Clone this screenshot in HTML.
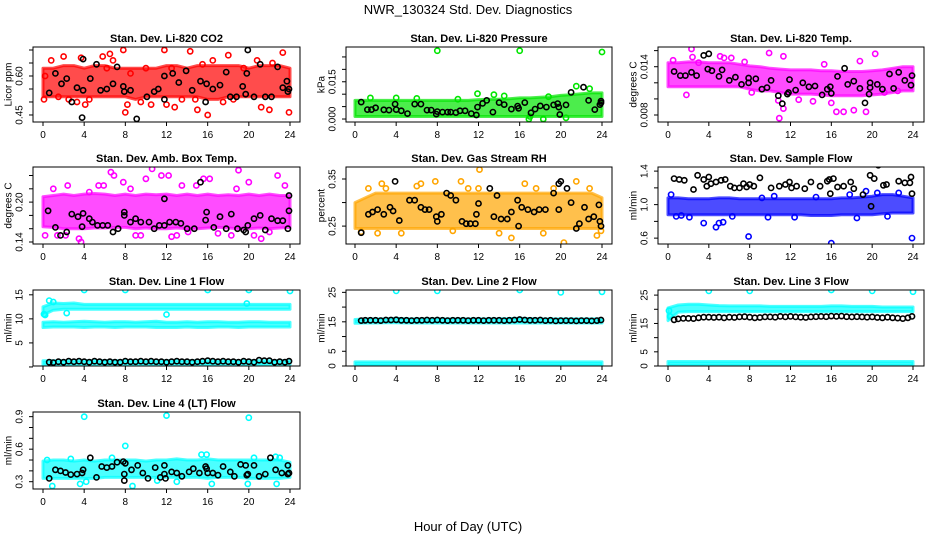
<!DOCTYPE html>
<html><head><meta charset="utf-8"><title>NWR_130324 Std. Dev. Diagnostics</title>
<style>
html,body{margin:0;padding:0;background:#fff;}
svg{display:block;font-family:"Liberation Sans",Arial,sans-serif;}
</style></head>
<body>
<svg id="chart" width="936" height="540" viewBox="0 0 936 540" xmlns="http://www.w3.org/2000/svg">
<text x="468" y="14" text-anchor="middle" font-size="13">NWR_130324  Std. Dev. Diagnostics</text>
<text x="468" y="531" text-anchor="middle" font-size="13">Hour of Day (UTC)</text>
</svg>
<script>
// ---------- data ----------
const hours = [0,1,2,3,4,5,6,7,8,9,10,11,12,13,14,15,16,17,18,19,20,21,22,23,24];
const xTicks = [0,4,8,12,16,20,24];

// P1 CO2
const co2Lo = [0.52,0.52,0.52,0.52,0.52,0.52,0.52,0.52,0.52,0.51,0.52,0.52,0.52,0.52,0.52,0.52,0.51,0.51,0.52,0.52,0.52,0.52,0.52,0.52,0.52];
const co2Hi = [0.63,0.63,0.64,0.64,0.63,0.64,0.64,0.63,0.63,0.63,0.63,0.63,0.64,0.64,0.63,0.64,0.64,0.64,0.64,0.64,0.63,0.64,0.64,0.64,0.63];
const co2Pts = [[0.1,0.51],[0.2,0.60],[0.8,0.66],[2.0,0.675],[3.7,0.67],[4.1,0.49],[5.8,0.675],[6.5,0.685],[6.8,0.66],[7.8,0.70],[8.0,0.46],[8.2,0.49],[9.5,0.50],[11.8,0.70],[12.0,0.49],[12.8,0.48],[14.3,0.695],[15.0,0.47],[15.5,0.645],[16.0,0.45],[16.5,0.66],[18.0,0.68],[19.5,0.63],[21.2,0.48],[22.0,0.47],[23.3,0.69],[23.9,0.46],[10.5,0.49],[1.5,0.52],[3.3,0.50],[17.5,0.50],[14.8,0.51],[20.8,0.66],[22.3,0.65],[8.5,0.61],[12.5,0.63],[6.2,0.63],[10.0,0.63],[4.5,0.51],[2.5,0.51],[13.5,0.51],[18.5,0.51]];
const co2Blk = [[0.6,0.535],[1.2,0.61],[1.8,0.57],[2.3,0.59],[2.8,0.50],[3.3,0.555],[3.8,0.44],[3.9,0.545],[3.9,0.665],[4.6,0.59],[5.2,0.645],[5.6,0.545],[6.2,0.55],[6.8,0.57],[7.2,0.635],[7.8,0.56],[7.9,0.54],[8.5,0.545],[9.1,0.435],[10.1,0.52],[10.8,0.54],[11.2,0.55],[11.8,0.51],[11.8,0.60],[12.6,0.61],[13.2,0.575],[13.9,0.62],[14.5,0.545],[15.3,0.58],[15.8,0.50],[15.9,0.57],[16.5,0.55],[17.2,0.565],[17.8,0.615],[18.2,0.52],[18.8,0.52],[19.4,0.56],[19.7,0.53],[19.8,0.61],[19.9,0.70],[20.5,0.52],[21.1,0.645],[21.6,0.52],[22.2,0.52],[22.8,0.635],[23.3,0.555],[23.7,0.58],[23.8,0.54],[23.9,0.55]];

// P2 Pressure
const presLo = [0.001,0.001,0.001,0.001,0.001,0.001,0.001,0.001,0.001,0.001,0.001,0.001,0.001,0.001,0.001,0.001,0.001,0.001,0.001,0.001,0.001,0.001,0.001,0.001,0.001];
const presHi = [0.0075,0.0075,0.0075,0.0075,0.0075,0.0075,0.0075,0.0075,0.0075,0.0075,0.0075,0.0075,0.0078,0.008,0.008,0.0082,0.0085,0.0085,0.0088,0.009,0.0095,0.0098,0.0102,0.0105,0.0105];
const presPts = [[1.5,0.0085],[4.0,0.0085],[8,0.0275],[11.9,0.0102],[13.5,0.0098],[14.5,0.0093],[16,0.0275],[16.9,0.0],[18.3,0.0],[18.8,0.009],[21.5,0.0132],[22.8,0.0122],[24,0.027],[10,0.008],[6,0.0083],[17,0.001],[20.5,0.0005]];
const presBlk = [[0.6,0.0068],[1.2,0.0038],[1.6,0.0038],[2.0,0.0045],[2.8,0.0037],[3.3,0.0036],[3.9,0.006],[4.0,0.0038],[4.5,0.0033],[5.1,0.0022],[5.8,0.006],[6.4,0.006],[7.0,0.0036],[7.4,0.0036],[7.9,0.002],[8.0,0.003],[8.5,0.0028],[9.0,0.0028],[9.3,0.0028],[9.8,0.0026],[10.2,0.0033],[10.7,0.0033],[11.3,0.0022],[11.8,0.0016],[11.9,0.0048],[12.4,0.0063],[12.8,0.0075],[13.4,0.0028],[14.0,0.0066],[14.5,0.0058],[15.2,0.004],[15.8,0.0052],[15.9,0.0043],[16.5,0.0066],[17.1,0.0025],[17.5,0.004],[18.0,0.0053],[18.6,0.0048],[19.3,0.0057],[19.7,0.0062],[19.8,0.0048],[19.9,0.0018],[20.5,0.0057],[21.0,0.0107],[22.2,0.0128],[22.7,0.0075],[23.3,0.0038],[23.8,0.0058],[23.9,0.0072],[23.9,0.0065]];

// P3 Li-820 Temp
const tempLo = [0.0115,0.0115,0.0115,0.0115,0.0115,0.0115,0.0115,0.0115,0.0112,0.011,0.011,0.0108,0.0106,0.0106,0.0106,0.0105,0.0104,0.0104,0.0104,0.0104,0.0105,0.0106,0.0108,0.011,0.011];
const tempHi = [0.0145,0.0145,0.0146,0.0146,0.0145,0.0145,0.0145,0.0143,0.0141,0.014,0.0138,0.0137,0.0136,0.0136,0.0136,0.0135,0.0135,0.0134,0.0134,0.0134,0.0135,0.0136,0.0138,0.014,0.014];
const tempPts = [[2.3,0.0162],[2.4,0.0152],[5.1,0.0153],[5.5,0.0151],[6.2,0.0151],[9.9,0.0157],[10.9,0.0076],[11.3,0.0088],[11.3,0.0153],[16.5,0.0084],[17.2,0.0084],[18.8,0.0147],[19.4,0.0084],[20.3,0.0156],[16,0.0095],[14.2,0.0097],[1.8,0.0105],[8.2,0.0108],[10.8,0.0098],[12.8,0.0099],[21.2,0.0108],[22.5,0.011],[7.5,0.0146],[15.3,0.0143],[3.0,0.0145],[18.2,0.0086],[0.5,0.0148]];
const tempBlk = [[0.6,0.0134],[1.2,0.0129],[1.7,0.0129],[2.3,0.0133],[2.8,0.0129],[3.5,0.0154],[3.9,0.0137],[4.0,0.0156],[4.3,0.0135],[5.0,0.0128],[5.3,0.0136],[6.0,0.0123],[6.6,0.0127],[7.2,0.0118],[7.9,0.012],[7.9,0.0126],[8.6,0.0125],[9.2,0.0112],[9.7,0.0114],[10.1,0.0123],[10.8,0.0104],[11.2,0.0094],[11.7,0.0106],[11.8,0.0108],[11.9,0.0124],[12.5,0.0111],[13.2,0.012],[13.8,0.0115],[14.4,0.0116],[15.1,0.0105],[15.6,0.0112],[15.9,0.0115],[16.0,0.0107],[16.6,0.0128],[17.3,0.0138],[17.6,0.0118],[18.2,0.0122],[18.8,0.0113],[19.3,0.0095],[19.7,0.0106],[19.8,0.0114],[19.8,0.012],[20.5,0.0118],[21.0,0.0112],[21.7,0.0131],[22.1,0.0113],[22.6,0.0133],[23.2,0.0123],[23.8,0.0117],[23.9,0.0129]];

// P4 Amb Box Temp
const boxLo = [0.163,0.162,0.16,0.16,0.16,0.161,0.161,0.162,0.162,0.16,0.161,0.16,0.16,0.161,0.16,0.16,0.161,0.162,0.161,0.16,0.16,0.161,0.16,0.161,0.162];
const boxHi = [0.208,0.21,0.212,0.21,0.212,0.213,0.212,0.21,0.212,0.21,0.212,0.211,0.212,0.21,0.212,0.21,0.212,0.21,0.211,0.21,0.212,0.21,0.212,0.21,0.21];
const boxPts = [[0.2,0.15],[1.4,0.15],[2.4,0.225],[3.5,0.145],[3.7,0.14],[5.4,0.225],[5.9,0.225],[6.6,0.245],[7.8,0.23],[9.0,0.15],[9.5,0.15],[10.0,0.235],[10.6,0.25],[11.5,0.24],[12.2,0.24],[13.0,0.15],[14.1,0.155],[15.6,0.235],[16.2,0.235],[18.3,0.15],[19.0,0.248],[20.5,0.15],[21.2,0.145],[22.8,0.24],[23.5,0.225],[18.8,0.22],[8.5,0.22],[2.2,0.15],[12.5,0.148],[17.0,0.153],[20.0,0.23],[4.5,0.215],[14.9,0.225],[6.9,0.24],[1.0,0.22],[13.5,0.225],[22.0,0.155]];
const boxBlk = [[0.5,0.187],[1.2,0.162],[1.7,0.150],[2.3,0.155],[2.8,0.182],[3.4,0.178],[3.8,0.163],[3.9,0.183],[4.5,0.175],[4.8,0.17],[5.3,0.165],[5.8,0.165],[6.3,0.165],[6.8,0.155],[7.3,0.16],[7.9,0.18],[7.9,0.185],[8.5,0.17],[9.0,0.175],[9.5,0.17],[10.3,0.17],[10.8,0.16],[11.3,0.165],[11.8,0.205],[11.8,0.165],[12.3,0.17],[12.9,0.17],[13.4,0.168],[14.0,0.16],[14.7,0.16],[15.3,0.23],[15.8,0.173],[15.9,0.185],[16.6,0.162],[17.2,0.178],[17.8,0.16],[18.3,0.182],[18.9,0.16],[19.5,0.158],[19.7,0.155],[19.9,0.165],[20.5,0.175],[21.1,0.18],[21.6,0.158],[22.2,0.175],[22.8,0.172],[23.3,0.172],[23.8,0.16],[23.9,0.187],[23.9,0.21]];

// P5 Gas Stream RH
const rhLo = [0.245,0.245,0.245,0.245,0.245,0.245,0.245,0.245,0.245,0.245,0.245,0.245,0.245,0.245,0.245,0.245,0.245,0.245,0.245,0.245,0.245,0.245,0.245,0.245,0.245];
const rhHi = [0.3,0.31,0.32,0.32,0.32,0.32,0.32,0.32,0.32,0.32,0.32,0.32,0.32,0.32,0.32,0.32,0.32,0.32,0.32,0.32,0.32,0.32,0.32,0.32,0.31];
const rhPts = [[0.6,0.238],[1.3,0.33],[2.6,0.34],[3.0,0.33],[6.4,0.34],[7.8,0.345],[10.3,0.345],[12.1,0.37],[12.0,0.33],[15.2,0.225],[16.5,0.34],[20.3,0.215],[21.5,0.345],[22.8,0.33],[23.5,0.23],[23.9,0.24],[4.5,0.235],[9.5,0.24],[18.3,0.235],[2.2,0.235],[14.0,0.235],[17.6,0.33],[19.3,0.33],[6.0,0.335],[11.0,0.33]];
const rhBlk = [[0.6,0.236],[1.3,0.275],[1.7,0.28],[2.2,0.285],[2.8,0.275],[3.4,0.29],[3.7,0.282],[3.9,0.345],[4.3,0.262],[5.3,0.305],[5.8,0.305],[6.4,0.29],[6.8,0.285],[7.2,0.285],[7.9,0.27],[8.0,0.26],[8.4,0.275],[8.9,0.32],[9.3,0.315],[9.8,0.305],[10.4,0.26],[10.8,0.255],[11.2,0.255],[11.7,0.255],[11.8,0.275],[12.0,0.298],[13.1,0.33],[13.5,0.27],[13.8,0.315],[14.2,0.265],[14.8,0.265],[15.2,0.28],[15.8,0.305],[15.9,0.25],[16.2,0.29],[16.8,0.285],[17.4,0.28],[17.9,0.285],[18.5,0.285],[19.3,0.32],[19.8,0.34],[19.8,0.285],[20.0,0.345],[20.6,0.33],[21.0,0.3],[21.5,0.245],[21.8,0.255],[22.3,0.29],[22.7,0.265],[23.2,0.27],[23.7,0.295],[23.8,0.26],[23.9,0.25]];

// P6 Sample Flow
const sfLo = [0.88,0.88,0.88,0.88,0.88,0.88,0.88,0.88,0.88,0.88,0.88,0.88,0.88,0.88,0.87,0.87,0.87,0.88,0.88,0.88,0.88,0.89,0.9,0.9,0.9];
const sfHi = [1.08,1.08,1.07,1.07,1.07,1.08,1.08,1.07,1.07,1.07,1.07,1.07,1.07,1.07,1.07,1.07,1.07,1.08,1.08,1.09,1.1,1.12,1.12,1.1,1.08];
const sfPts = [[0.3,1.12],[1.3,0.87],[3.5,0.78],[4.7,0.73],[5.0,0.78],[5.4,0.79],[7.9,0.62],[9.2,1.08],[10.4,1.1],[14.5,1.09],[16.0,0.54],[17.8,1.12],[19.4,1.16],[20.5,1.14],[22.6,1.14],[23.9,0.6],[2.1,0.85],[12.4,0.85],[18.5,0.84],[21.5,0.86],[6.3,0.86],[0.8,0.86],[9.8,0.85]];
const sfBlk = [[0.6,1.31],[1.1,1.3],[1.6,1.29],[2.5,1.18],[2.9,1.35],[3.5,1.3],[3.8,1.22],[4.0,1.33],[4.2,1.25],[4.7,1.27],[5.2,1.29],[5.6,1.3],[6.1,1.22],[6.5,1.2],[7.0,1.2],[7.4,1.25],[7.7,1.21],[8.0,1.24],[8.4,1.22],[9.0,1.32],[10.1,1.2],[10.9,1.22],[11.5,1.24],[11.9,1.27],[12.1,1.2],[12.6,1.22],[13.4,1.19],[14.0,1.27],[14.9,1.22],[15.6,1.28],[15.8,1.3],[15.9,1.13],[16.2,1.31],[16.6,1.21],[17.2,1.22],[17.9,1.27],[18.2,1.19],[19.1,1.12],[19.8,1.35],[19.9,0.98],[20.2,1.31],[20.6,1.47],[21.1,1.23],[21.4,1.24],[22.6,1.28],[23.2,1.26],[23.8,1.33],[23.9,1.13],[23.7,1.26]];

// P7 Line 1
const l1LoA = [10.8,11.8,12.0,12.0,12.0,12.0,12.0,12.0,12.0,12.0,12.0,12.0,12.0,12.0,12.0,12.0,12.0,12.0,12.0,12.0,12.0,12.0,12.0,12.0,12.0];
const l1HiA = [12.5,13.3,13.2,13.3,13.0,13.0,13.0,13.0,13.0,13.0,13.0,13.0,13.0,13.0,13.0,13.0,13.0,13.0,13.0,13.0,13.0,13.0,13.0,13.0,13.0];
const l1LoB = [8.2,8.3,8.3,8.3,8.2,8.3,8.3,8.2,8.3,8.3,8.3,8.2,8.2,8.2,8.3,8.2,8.2,8.3,8.3,8.2,8.3,8.3,8.3,8.3,8.3];
const l1HiB = [9.3,9.4,9.3,9.4,9.5,9.4,9.3,9.4,9.4,9.3,9.4,9.5,9.3,9.3,9.4,9.3,9.4,9.4,9.3,9.3,9.4,9.4,9.3,9.3,9.3];
const l1LoC = [0.5,0.5,0.5,0.5,0.5,0.5,0.5,0.5,0.5,0.5,0.5,0.5,0.5,0.5,0.5,0.5,0.5,0.5,0.5,0.5,0.5,0.5,0.5,0.5,0.5];
const l1HiC = [1.3,1.3,1.3,1.3,1.3,1.3,1.3,1.3,1.3,1.3,1.3,1.3,1.3,1.3,1.3,1.3,1.3,1.3,1.3,1.3,1.3,1.3,1.3,1.3,1.3];
const l1Pts = [[0.1,11],[0.2,10.8],[0.6,13.8],[4,16],[8,16],[16,16],[20,16],[24,15.8],[12,10.9],[2.3,11.2],[19.8,13.2],[1.0,13.5]];
const l1Blk = [[0.6,1.0],[1.0,0.9],[1.5,1.1],[2.0,1.0],[2.5,1.2],[3.0,1.1],[3.5,1.2],[4.0,1.1],[4.5,1.0],[5.0,1.2],[5.5,1.1],[6.0,1.0],[6.5,1.1],[7.0,1.0],[7.5,1.0],[8.0,1.2],[8.5,1.1],[9.0,1.1],[9.5,1.2],[10.0,1.1],[10.5,1.2],[11.0,1.1],[11.5,1.1],[12.0,1.0],[12.5,1.1],[13.0,1.2],[13.5,1.1],[14.0,1.1],[14.5,1.0],[15.0,1.1],[15.5,1.2],[16.0,1.3],[16.5,1.2],[17.0,1.1],[17.5,1.2],[18.0,1.1],[18.5,1.1],[19.0,1.0],[19.5,1.2],[20.0,1.1],[20.5,1.0],[21.0,1.4],[21.5,1.3],[22.0,1.3],[22.5,1.0],[23.0,1.1],[23.5,1.0],[23.9,1.2]];

// P8 Line 2
const l2LoA = [14.5,14.6,14.6,14.7,14.7,14.6,14.6,14.6,14.6,14.6,14.6,14.6,14.6,14.6,14.6,14.6,14.6,14.6,14.6,14.6,14.6,14.6,14.6,14.6,14.6];
const l2HiA = [15.8,16.0,16.0,16.0,16.2,16.0,16.0,16.0,16.0,16.0,16.0,16.0,16.0,16.0,16.0,16.1,16.2,16.1,16.0,16.0,16.0,16.0,16.0,16.0,16.0];
const l2LoB = [0.2,0.2,0.2,0.2,0.2,0.2,0.2,0.2,0.2,0.2,0.2,0.2,0.2,0.2,0.2,0.2,0.2,0.2,0.2,0.2,0.2,0.2,0.2,0.2,0.2];
const l2HiB = [1.4,1.4,1.4,1.4,1.4,1.4,1.4,1.4,1.4,1.4,1.4,1.4,1.4,1.4,1.4,1.4,1.4,1.4,1.4,1.4,1.4,1.4,1.4,1.4,1.4];
const l2Pts = [[4,25.5],[8,25.5],[16,25.8],[20,25],[24,25.2]];
const l2Blk = [[0.6,15.4],[1.0,15.5],[1.5,15.5],[2.0,15.5],[2.5,15.4],[3.0,15.6],[3.5,15.6],[4.0,15.7],[4.5,15.5],[5.0,15.5],[5.5,15.4],[6.0,15.5],[6.5,15.5],[7.0,15.6],[7.5,15.5],[8.0,15.6],[8.5,15.5],[9.0,15.4],[9.5,15.5],[10.0,15.5],[10.5,15.5],[11.0,15.4],[11.5,15.5],[12.0,15.5],[12.5,15.4],[13.0,15.5],[13.5,15.5],[14.0,15.5],[14.5,15.4],[15.0,15.5],[15.5,15.6],[16.0,15.8],[16.5,15.6],[17.0,15.5],[17.5,15.5],[18.0,15.6],[18.5,15.4],[19.0,15.5],[19.5,15.3],[20.0,15.4],[20.5,15.4],[21.0,15.4],[21.5,15.3],[22.0,15.4],[22.5,15.4],[23.0,15.3],[23.5,15.4],[23.9,15.6]];

// P9 Line 3
const l3LoA = [16.0,19.0,19.2,19.2,19.2,19.2,19.2,19.2,19.2,19.2,19.2,19.2,19.2,19.2,19.2,19.2,19.2,19.2,19.2,19.2,19.2,19.2,19.2,19.2,19.2];
const l3HiA = [20.5,21.5,21.8,21.8,21.5,21.3,21.2,21.2,21.2,21.2,21.0,21.0,21.0,21.0,21.0,21.0,21.2,21.2,21.0,21.0,21.0,20.8,20.8,20.8,20.8];
const l3LoB = [0.3,0.3,0.3,0.3,0.3,0.3,0.3,0.3,0.3,0.3,0.3,0.3,0.3,0.3,0.3,0.3,0.3,0.3,0.3,0.3,0.3,0.3,0.3,0.3,0.3];
const l3HiB = [1.6,1.6,1.6,1.6,1.6,1.6,1.6,1.6,1.6,1.6,1.6,1.6,1.6,1.6,1.6,1.6,1.6,1.6,1.6,1.6,1.6,1.6,1.6,1.6,1.6];
const l3Pts = [[4,26.5],[8,26.5],[16,26.8],[20,26.5],[24,26.2],[0.1,19.5],[0.2,17.5]];
const l3Blk = [[0.6,16.3],[1.0,16.6],[1.5,16.8],[2.0,16.8],[2.5,16.7],[3.0,17.0],[3.5,17.2],[4.0,17.2],[4.5,17.1],[5.0,17.2],[5.5,17.0],[6.0,17.2],[6.5,17.1],[7.0,17.3],[7.5,17.4],[8.0,17.2],[8.5,17.0],[9.0,17.1],[9.5,17.3],[10.0,17.3],[10.5,17.2],[11.0,17.5],[11.5,17.3],[12.0,17.5],[12.5,17.3],[13.0,17.2],[13.5,17.1],[14.0,17.3],[14.5,17.4],[15.0,17.5],[15.5,17.4],[16.0,17.6],[16.5,17.5],[17.0,17.6],[17.5,17.4],[18.0,17.3],[18.5,17.4],[19.0,17.3],[19.5,17.2],[20.0,17.3],[20.5,17.1],[21.0,17.0],[21.5,17.2],[22.0,17.0],[22.5,16.9],[23.0,16.7],[23.5,17.0],[23.9,17.5]];

// P10 Line 4 (LT)
const l4Lo = [0.33,0.33,0.33,0.33,0.33,0.33,0.34,0.34,0.34,0.34,0.34,0.34,0.34,0.34,0.34,0.34,0.33,0.34,0.34,0.34,0.33,0.33,0.33,0.33,0.34];
const l4Hi = [0.49,0.5,0.5,0.49,0.5,0.49,0.5,0.5,0.5,0.5,0.49,0.5,0.5,0.51,0.5,0.5,0.51,0.5,0.5,0.5,0.5,0.5,0.5,0.5,0.48];
const l4Pts = [[4,0.9],[12,0.91],[20,0.89],[8,0.63],[0.9,0.26],[3.6,0.28],[8.7,0.26],[16.4,0.28],[19.9,0.28],[22.7,0.28],[15.4,0.55],[15.9,0.55],[13,0.3],[22.6,0.53],[23.0,0.52],[0.4,0.5],[2.7,0.51],[6.7,0.52],[20.5,0.52],[4.2,0.3],[11.1,0.31]];
const l4Blk = [[0.6,0.33],[1.2,0.41],[1.7,0.4],[2.2,0.385],[2.7,0.365],[3.3,0.37],[3.8,0.38],[3.9,0.41],[4.6,0.52],[5.2,0.34],[5.7,0.44],[6.2,0.43],[6.7,0.44],[7.2,0.48],[7.8,0.485],[7.9,0.31],[7.9,0.37],[8.0,0.47],[8.6,0.41],[9.2,0.45],[9.7,0.38],[10.2,0.33],[10.9,0.43],[11.4,0.34],[11.8,0.45],[11.8,0.37],[11.9,0.33],[12.5,0.39],[13.0,0.38],[13.5,0.35],[14.2,0.39],[14.6,0.42],[15.2,0.38],[15.8,0.44],[15.9,0.42],[16.0,0.38],[16.5,0.38],[17.0,0.36],[17.5,0.44],[18.2,0.39],[18.6,0.35],[19.2,0.46],[19.7,0.45],[19.8,0.36],[19.9,0.37],[20.5,0.45],[21.0,0.35],[21.6,0.37],[22.1,0.52],[22.6,0.41],[23.2,0.38],[23.8,0.45],[23.9,0.38],[23.8,0.37]];

// ---------- layout ----------
const cols = [{l:33,r:300,x0:43,x24:290},{l:346,r:612,x0:355,x24:602},{l:658,r:924,x0:668,x24:913}];
const rows = [{t:47,b:122},{t:167,b:244},{t:290,b:366},{t:412,b:489}];
const panels = [
 {name:'co2',title:'Stan. Dev. Li-820 CO2',ylab:'Licor ppm',c:0,r:0,ymin:0.423,ymax:0.7115,ticks:[0.45,0.5,0.55,0.6,0.65,0.7],labels:[0.45,0.6],fmt:2,color:'#ff0000',bands:[[co2Lo,co2Hi]],pts:co2Pts,blk:co2Blk},
 {name:'pressure',title:'Stan. Dev. Li-820 Pressure',ylab:'kPa',c:1,r:0,ymin:-0.0012,ymax:0.029,ticks:[0,0.005,0.01,0.015,0.02,0.025],labels:[0,0.015],fmt:3,color:'#00e600',bands:[[presLo,presHi]],pts:presPts,blk:presBlk},
 {name:'li820-temp',title:'Stan. Dev. Li-820 Temp.',ylab:'degrees C',c:2,r:0,ymin:0.00713,ymax:0.01645,ticks:[0.008,0.01,0.012,0.014,0.016],labels:[0.008,0.014],fmt:3,color:'#ff00ff',bands:[[tempLo,tempHi]],pts:tempPts,blk:tempBlk},
 {name:'amb-box-temp',title:'Stan. Dev. Amb. Box Temp.',ylab:'degrees C',c:0,r:1,ymin:0.137,ymax:0.2528,ticks:[0.14,0.16,0.18,0.2,0.22,0.24],labels:[0.14,0.2],fmt:2,color:'#ff00ff',bands:[[boxLo,boxHi]],pts:boxPts,blk:boxBlk},
 {name:'gas-stream-rh',title:'Stan. Dev. Gas Stream RH',ylab:'percent',c:1,r:1,ymin:0.212,ymax:0.3755,ticks:[0.25,0.3,0.35],labels:[0.25,0.35],fmt:2,color:'#ffa500',bands:[[rhLo,rhHi]],pts:rhPts,blk:rhBlk},
 {name:'sample-flow',title:'Stan. Dev. Sample Flow',ylab:'ml/min',c:2,r:1,ymin:0.53,ymax:1.449,ticks:[0.6,0.8,1.0,1.2,1.4],labels:[0.6,1.0,1.4],fmt:1,color:'#0000ff',bands:[[sfLo,sfHi]],pts:sfPts,blk:sfBlk},
 {name:'line1-flow',title:'Stan. Dev. Line 1 Flow',ylab:'ml/min',c:0,r:2,ymin:0.2,ymax:16.0,ticks:[0,5,10,15],labels:[5,10,15],fmt:0,color:'#00ffff',bands:[[l1LoA,l1HiA],[l1LoB,l1HiB],[l1LoC,l1HiC]],pts:l1Pts,blk:l1Blk},
 {name:'line2-flow',title:'Stan. Dev. Line 2 Flow',ylab:'ml/min',c:1,r:2,ymin:0,ymax:25.8,ticks:[0,5,10,15,20,25],labels:[0,5,15,25],fmt:0,color:'#00ffff',bands:[[l2LoA,l2HiA],[l2LoB,l2HiB]],pts:l2Pts,blk:l2Blk},
 {name:'line3-flow',title:'Stan. Dev. Line 3 Flow',ylab:'ml/min',c:2,r:2,ymin:0,ymax:26.8,ticks:[0,5,10,15,20,25],labels:[0,5,15,25],fmt:0,color:'#00ffff',bands:[[l3LoA,l3HiA],[l3LoB,l3HiB]],pts:l3Pts,blk:l3Blk},
 {name:'line4-flow',title:'Stan. Dev. Line 4 (LT) Flow',ylab:'ml/min',c:0,r:3,ymin:0.2326,ymax:0.943,ticks:[0.3,0.4,0.5,0.6,0.7,0.8,0.9],labels:[0.3,0.6,0.9],fmt:1,color:'#00ffff',bands:[[l4Lo,l4Hi]],pts:l4Pts,blk:l4Blk}
];

const NS='http://www.w3.org/2000/svg';
const svg=document.getElementById('chart');
function mk(tag,attrs,parent){const e=document.createElementNS(NS,tag);for(const k in attrs)e.setAttribute(k,attrs[k]);(parent||svg).appendChild(e);return e;}

panels.forEach(p=>{
  const C=cols[p.c], R=rows[p.r];
  const xs=v=>C.x0+(C.x24-C.x0)*v/24;
  const ys=v=>R.b-(R.b-R.t)*(v-p.ymin)/(p.ymax-p.ymin);
  const g=mk('g',{});
  
  
  const clipId='clip-'+p.name;
  const cp=mk('clipPath',{id:clipId},g);
  mk('rect',{x:C.l,y:R.t,width:C.r-C.l,height:R.b-R.t},cp);
  const plot=mk('g',{'clip-path':'url(#'+clipId+')'},g);
  
  
  p.bands.forEach((bd,i)=>{
    const lo=bd[0], hi=bd[1];
    let d='M'+hours.map((h,k)=>xs(h).toFixed(1)+','+ys(hi[k]).toFixed(1)).join('L');
    d+='L'+hours.slice().reverse().map((h,k)=>xs(h).toFixed(1)+','+ys(lo[hours.length-1-k]).toFixed(1)).join('L')+'Z';
    const band=mk('path',{d:d,fill:p.color,stroke:p.color,'stroke-width':3,'stroke-linejoin':'round','fill-opacity':0.7,'stroke-opacity':0.7},plot);
    
    
  });
  p.pts.forEach(pt=>{
    const c=mk('circle',{cx:xs(pt[0]).toFixed(1),cy:ys(pt[1]).toFixed(1),r:2.6,fill:'none',stroke:p.color,'stroke-width':1.6},plot);
    
    
  });
  p.blk.forEach(pt=>{
    const c=mk('circle',{cx:xs(pt[0]).toFixed(1),cy:ys(pt[1]).toFixed(1),r:2.6,fill:'none',stroke:'#000','stroke-width':1.6},plot);
    
    
  });
  const box=mk('rect',{x:C.l,y:R.t,width:C.r-C.l,height:R.b-R.t,fill:'none',stroke:'#000','stroke-width':1},g);
  
  
  const t=mk('text',{x:(C.l+C.r)/2,y:R.t-5,'text-anchor':'middle','font-size':11,'font-weight':'bold'},g);
  t.textContent=p.title;
  
  
  mk('line',{x1:xs(0),x2:xs(24),y1:R.b,y2:R.b,stroke:'#000'},g);
  xTicks.forEach(v=>{
    mk('line',{x1:xs(v),x2:xs(v),y1:R.b,y2:R.b+4,stroke:'#000'},g);
    const tl=mk('text',{x:xs(v),y:R.b+16,'text-anchor':'middle','font-size':10},g);
    tl.textContent=v;
    
    
  });
  p.ticks.forEach(v=>{
    const y=ys(v);
    if(y<R.t-1||y>R.b+1)return;
    mk('line',{x1:C.l-4,x2:C.l,y1:y,y2:y,stroke:'#000'},g);
  });
  p.labels.forEach(v=>{
    const y=ys(v);
    const tx=C.l-14;
    const tl=mk('text',{x:tx,y:y,'text-anchor':'middle','font-size':10,transform:'rotate(-90 '+tx+' '+y+')','dy':'0.35em'},g);
    tl.textContent=v.toFixed(p.fmt);
    
    
  });
  const lx=C.l-25, ly=(R.t+R.b)/2;
  const yl=mk('text',{x:lx,y:ly,'text-anchor':'middle','font-size':10,transform:'rotate(-90 '+lx+' '+ly+')','dy':'0.35em'},g);
  yl.textContent=p.ylab;
  
  
});
</script>
</body></html>
